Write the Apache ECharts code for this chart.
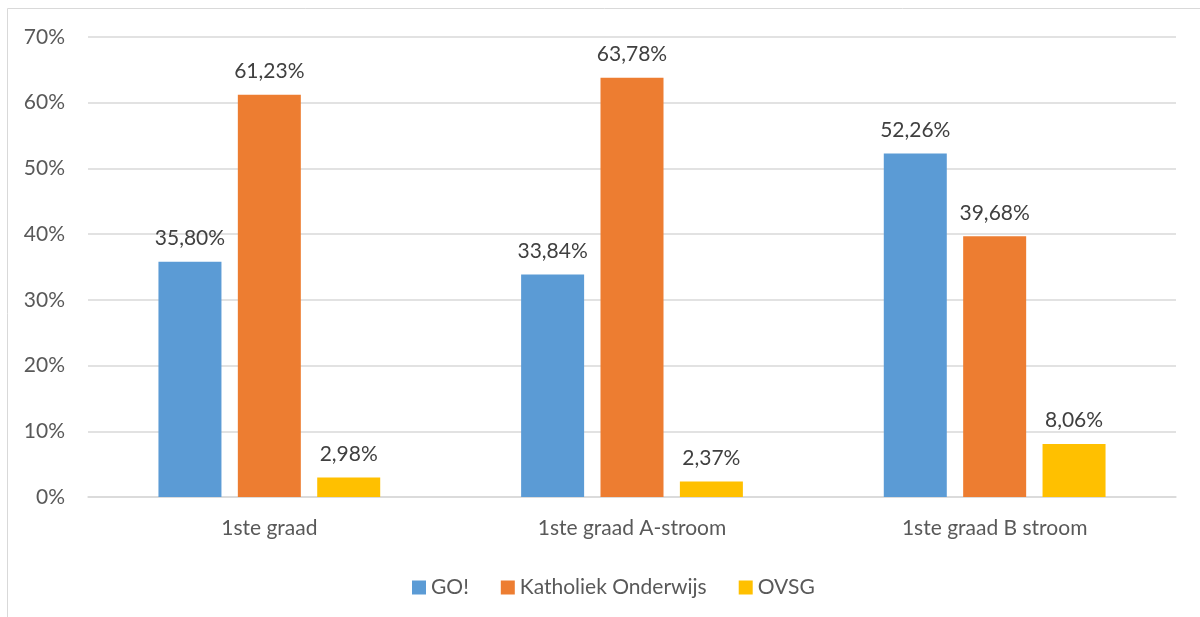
<!DOCTYPE html>
<html>
<head>
<meta charset="utf-8">
<script src="https://cdn.jsdelivr.net/npm/echarts@6/dist/echarts.min.js"></script>
<style>
html,body{margin:0;padding:0;background:#fff;}
#chart{width:1200px;height:617px;}
</style>
</head>
<body>
<div id="chart"></div>
<script>
const categories = ['1ste graad', '1ste graad A-stroom', '1ste graad B stroom'];
const seriesNames = ['GO!', 'Katholiek Onderwijs', 'OVSG'];
const goValues = [35.80, 33.84, 52.26];
const katholiekValues = [61.23, 63.78, 39.68];
const ovsgValues = [2.98, 2.37, 8.06];
const yTicks = [0, 10, 20, 30, 40, 50, 60, 70];

const colors = ['#5b9bd5', '#ed7d31', '#ffc000'];
const FONT = 'Lato';
const TXT = '#595959';
const SIZE = 21;

const fmt = v => v.toFixed(2).replace('.', ',') + '%';

const chart = echarts.init(document.getElementById('chart'));
const mk = (name, data, i) => ({
  name: name,
  type: 'bar',
  data: data,
  barWidth: 63,
  barGap: '26%',
  itemStyle: { color: colors[i] },
  label: {
    show: true,
    position: 'top',
    distance: 13,
    formatter: p => fmt(p.value),
    color: '#404040',
    fontFamily: FONT,
    fontSize: SIZE
  }
});

chart.setOption({
  animation: false,
  graphic: [{
    type: 'rect',
    shape: { x: 7.5, y: 8.5, width: 1300, height: 700 },
    style: { fill: 'none', stroke: '#d9d9d9', lineWidth: 1 },
    silent: true
  }],
  grid: { left: 88, right: 24, top: 37, bottom: 120 },
  legend: {
    top: 572,
    left: 407,
    itemWidth: 14,
    itemHeight: 14,
    itemGap: 32,
    icon: 'rect',
    textStyle: { color: TXT, fontFamily: FONT, fontSize: SIZE },
    data: seriesNames
  },
  xAxis: {
    type: 'category',
    data: categories,
    axisLine: { lineStyle: { color: '#d9d9d9', width: 1.5 } },
    axisTick: { show: false },
    axisLabel: { color: TXT, fontFamily: FONT, fontSize: SIZE, margin: 21 }
  },
  yAxis: {
    type: 'value',
    min: yTicks[0],
    max: yTicks[yTicks.length - 1],
    interval: 10,
    axisLine: { show: false },
    axisTick: { show: false },
    splitLine: { lineStyle: { color: '#d9d9d9', width: 1.5 } },
    axisLabel: { color: TXT, fontFamily: FONT, fontSize: SIZE, margin: 23, formatter: v => v + '%' }
  },
  series: [
    mk(seriesNames[0], goValues, 0),
    mk(seriesNames[1], katholiekValues, 1),
    mk(seriesNames[2], ovsgValues, 2)
  ]
});
</script>
</body>
</html>
